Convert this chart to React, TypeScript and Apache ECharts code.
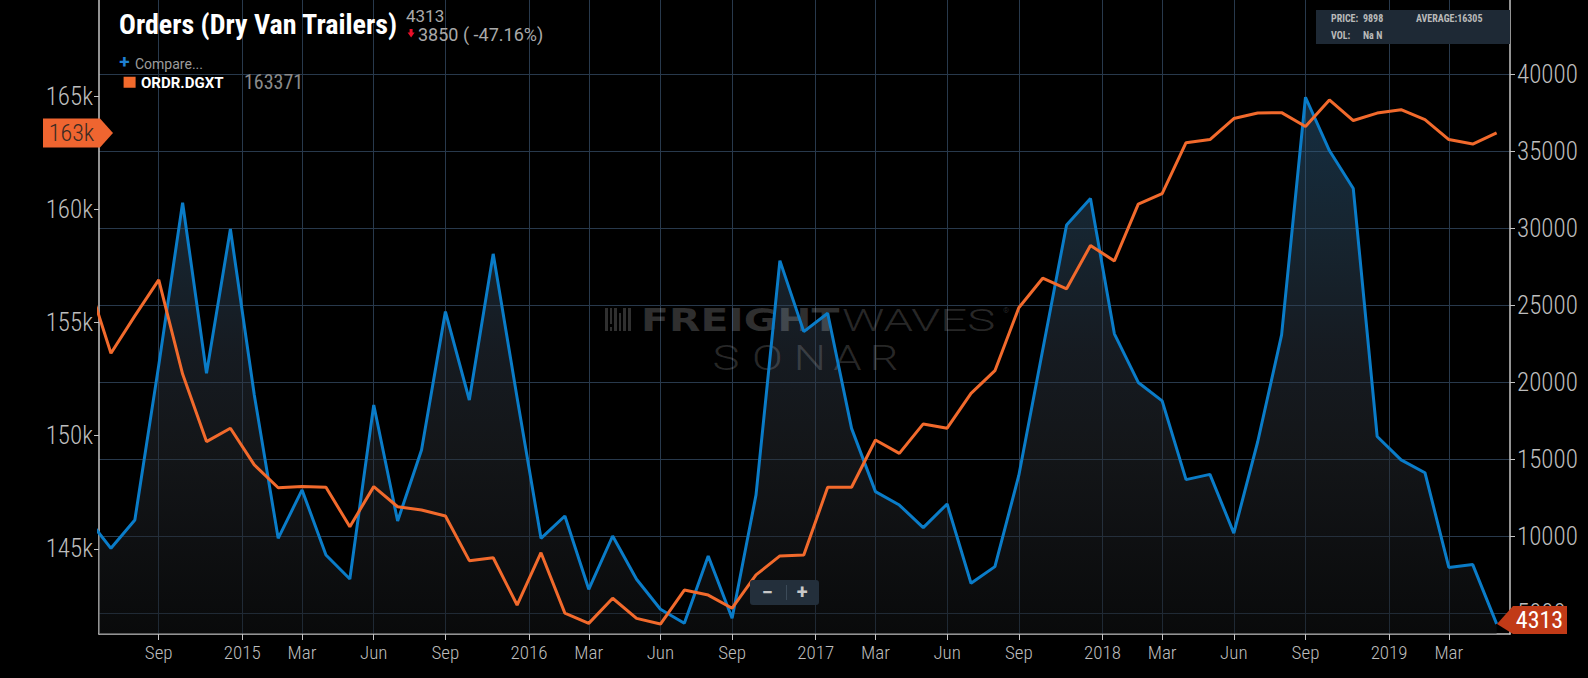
import React, { useEffect, useRef } from 'react';
import * as echarts from 'echarts';

// Monthly points, Jun 2014 .. May 2019 (x value = index in this list)
const months = [
  '2014-06', '2014-07', '2014-08', '2014-09', '2014-10', '2014-11', '2014-12',
  '2015-01', '2015-02', '2015-03', '2015-04', '2015-05', '2015-06', '2015-07', '2015-08', '2015-09', '2015-10', '2015-11', '2015-12',
  '2016-01', '2016-02', '2016-03', '2016-04', '2016-05', '2016-06', '2016-07', '2016-08', '2016-09', '2016-10', '2016-11', '2016-12',
  '2017-01', '2017-02', '2017-03', '2017-04', '2017-05', '2017-06', '2017-07', '2017-08', '2017-09', '2017-10', '2017-11', '2017-12',
  '2018-01', '2018-02', '2018-03', '2018-04', '2018-05', '2018-06', '2018-07', '2018-08', '2018-09', '2018-10', '2018-11', '2018-12',
  '2019-01', '2019-02', '2019-03', '2019-04', '2019-05',
];

// Orders (Dry Van Trailers) – right axis
const dryVanOrders = [
  11200, 9220, 11060, 21100, 31660, 20580, 29950,
  19180, 9870, 13010, 8790, 7230, 18530, 10990, 15600, 24590, 18850, 28340, 19000,
  9870, 11320, 6560, 10020, 7210, 5260, 4350, 8720, 4680, 12680, 27900, 23290,
  24480, 17010, 12900, 12030, 10560, 12100, 6950, 8030, 13950, 22100, 30220, 31930,
  23150, 19990, 18790, 13680, 14020, 10210, 16140, 23080, 38510, 35050, 32580, 16480,
  14960, 14130, 7980, 8163, 4313,
];

// ORDR.DGXT – left axis
const ordrDgxt = [
  156940, 153640, 155290, 156880, 152720, 149740, 150330,
  148710, 147700, 147750, 147720, 145980, 147750, 146860, 146720, 146450, 144480, 144610, 142520,
  144830, 142160, 141710, 142820, 141930, 141680, 143180, 142960, 142380, 143850, 144690, 144730,
  147720, 147720, 149810, 149220, 150520, 150330, 151870, 152870, 155650, 156955, 156490, 158400,
  157720, 160230, 160690, 162940, 163080, 164010, 164250, 164270, 163660, 164830, 163920, 164250,
  164400, 163960, 163080, 162880, 163371,
];

const xTickPositions = [3, 6.5, 9, 12, 15, 18.5, 21, 24, 27, 30.5, 33, 36, 39, 42.5, 45, 48, 51, 54.5, 57];
const xTickLabels = ['Sep', '2015', 'Mar', 'Jun', 'Sep', '2016', 'Mar', 'Jun', 'Sep', '2017', 'Mar', 'Jun', 'Sep', '2018', 'Mar', 'Jun', 'Sep', '2019', 'Mar'];
const leftTicks = [145000, 150000, 155000, 160000, 165000];
const rightTicks = [5000, 10000, 15000, 20000, 25000, 30000, 35000, 40000];

const FONT = '"Roboto Condensed", "Liberation Sans Narrow", "DejaVu Sans Condensed", "Roboto", sans-serif';

export default function App() {
  const ref = useRef<HTMLDivElement>(null);

  useEffect(() => {
    const el = ref.current;
    if (!el) return;
    const chart = echarts.init(el, null, { renderer: 'svg' });

    const blueData = months.map((_, i) => [i, dryVanOrders[i]]);
    const orangeData = months.map((_, i) => [i, ordrDgxt[i]]);

    const gridColor = '#28394c';
    const axisColor = '#c4c4c4';
    const labelColor = '#bdbdbd';
    const blue = '#0a7cc8';
    const orange = '#f26a2c';

    const xLabel = (v: number) => {
      const k = xTickPositions.findIndex((p) => Math.abs(p - v) < 0.01);
      return k >= 0 ? xTickLabels[k] : '';
    };

    const option: any = {
      animation: false,
      backgroundColor: '#000000',
      grid: { left: 99, right: 78, top: 0, bottom: 44, containLabel: false },
      xAxis: {
        type: 'value',
        min: 0.5,
        max: 59.56,
        axisLine: { show: true, onZero: false, lineStyle: { color: axisColor, width: 1.5 } },
        axisTick: { show: true, customValues: xTickPositions, length: 6, lineStyle: { color: axisColor } },
        axisLabel: {
          customValues: xTickPositions,
          formatter: xLabel,
          color: labelColor,
          fontFamily: FONT,
          fontSize: 19,
          fontWeight: 300,
          margin: 9,
        },
        splitLine: { show: true, lineStyle: { color: gridColor, width: 1 } },
      },
      yAxis: [
        {
          type: 'value',
          position: 'left',
          min: 141240,
          max: 169245,
          axisLine: { show: true, lineStyle: { color: axisColor, width: 1.5 } },
          axisTick: { show: true, customValues: leftTicks, length: 5, lineStyle: { color: axisColor } },
          axisLabel: {
            customValues: leftTicks,
            formatter: (v: number) => Math.round(v / 1000) + 'k',
            color: labelColor,
            fontFamily: FONT,
            fontSize: 25,
            fontWeight: 300,
            margin: 6,
            padding: [0, 0, 6, 0],
          },
          splitLine: { show: false },
        },
        {
          type: 'value',
          position: 'right',
          min: 3656,
          max: 44825,
          axisLine: { show: true, lineStyle: { color: axisColor, width: 1.5 } },
          axisTick: { show: true, customValues: rightTicks, length: 5, lineStyle: { color: axisColor } },
          axisLabel: {
            customValues: rightTicks,
            formatter: (v: number) => String(Math.round(v)),
            color: labelColor,
            fontFamily: FONT,
            fontSize: 25,
            fontWeight: 300,
            margin: 7,
            padding: [0, 0, 6, 0],
          },
          splitLine: { show: true, lineStyle: { color: gridColor, width: 1 } },
        },
      ],
      series: [
        {
          name: 'area',
          type: 'line',
          yAxisIndex: 1,
          data: blueData,
          symbol: 'none',
          silent: true,
          z: 1,
          lineStyle: { width: 0, opacity: 0 },
          areaStyle: {
            color: new echarts.graphic.LinearGradient(0, 0, 0, 634, [
              { offset: 0.0, color: 'rgba(45,106,152,0.66)' },
              { offset: 0.17, color: 'rgba(45,97,137,0.66)' },
              { offset: 0.39, color: 'rgba(48,77,100,0.66)' },
              { offset: 0.55, color: 'rgba(47,58,72,0.66)' },
              { offset: 0.71, color: 'rgba(42,47,53,0.66)' },
              { offset: 0.87, color: 'rgba(30,33,37,0.66)' },
              { offset: 1, color: 'rgba(20,22,23,0.66)' },
            ], true),
          },
        },
        {
          name: 'ORDR.DGXT',
          type: 'line',
          yAxisIndex: 0,
          data: orangeData,
          symbol: 'none',
          z: 4,
          lineStyle: { color: orange, width: 3 },
        },
        {
          name: 'Orders (Dry Van Trailers)',
          type: 'line',
          yAxisIndex: 1,
          data: blueData,
          symbol: 'none',
          z: 3,
          lineStyle: { color: blue, width: 3 },
        },
      ],
    };

    chart.setOption(option);

    const last = months.length - 1;
    const yL = chart.convertToPixel({ yAxisIndex: 0 }, ordrDgxt[last]) as number;
    const yRv = chart.convertToPixel({ yAxisIndex: 1 }, dryVanOrders[last]) as number;
    const yR = Math.min(yRv, 634 - 14);

    const txt = (text: string, x: number, y: number, font: string, fill: string, align = 'left', extra: any = {}, lineHeight?: number) => ({
      type: 'text',
      x,
      y,
      z: 20,
      silent: true,
      ...extra,
      style: { text, font, fill, textAlign: align, textVerticalAlign: 'middle', ...(lineHeight ? { lineHeight } : {}) },
    });

    const wm = 'rgba(255,255,255,0.19)';
    const wm2 = 'rgba(255,255,255,0.16)';
    const sonar = ['S', 'O', 'N', 'A', 'R'];
    const sonarX = [726, 767.5, 810, 847.5, 884];
    const ROBOTO = 'Roboto, "Noto Sans", sans-serif';

    const elements: any[] = [
      // watermark icon
      { type: 'rect', z: 2, silent: true, shape: { x: 605, y: 308, width: 3, height: 23 }, style: { fill: wm } },
      { type: 'rect', z: 2, silent: true, shape: { x: 610, y: 308, width: 2, height: 16 }, style: { fill: wm } },
      { type: 'rect', z: 2, silent: true, shape: { x: 610, y: 327, width: 2, height: 4 }, style: { fill: wm } },
      { type: 'rect', z: 2, silent: true, shape: { x: 614, y: 308, width: 3, height: 23 }, style: { fill: wm } },
      { type: 'rect', z: 2, silent: true, shape: { x: 619, y: 313, width: 2, height: 18 }, style: { fill: wm } },
      { type: 'rect', z: 2, silent: true, shape: { x: 623, y: 308, width: 3, height: 23 }, style: { fill: wm } },
      { type: 'rect', z: 2, silent: true, shape: { x: 628, y: 308, width: 3, height: 23 }, style: { fill: wm } },
      txt('FREIGHT', 641, 320, '900 32px "DejaVu Sans", sans-serif', wm, 'left', { z: 2, scaleX: 1.28 }),
      txt('WAVES', 842, 320, '300 32px ' + ROBOTO, wm2, 'left', { z: 2, scaleX: 1.48 }),
      txt('®', 1003, 310, '8px ' + ROBOTO, wm2, 'left', { z: 2 }),
      ...sonar.map((s, i) => txt(s, sonarX[i], 358, '300 35px ' + ROBOTO, wm2, 'center', { z: 2, scaleX: 1.3 })),

      // title block
      txt('Orders (Dry Van Trailers)', 119, 24, 'bold 28px ' + FONT, '#ffffff', 'left', {}, 30),
      txt('4313', 406, 15.5, '17px ' + ROBOTO, '#a9a9a9', 'left', {}, 14),
      {
        type: 'polygon', z: 20, silent: true,
        shape: { points: [[409.6, 29], [412.6, 29], [412.6, 32.5], [414.6, 32.5], [411.1, 37.5], [407.6, 32.5], [409.6, 32.5]] },
        style: { fill: '#e8102a' },
      },
      txt('3850 ( -47.16%)', 418, 34, '18px ' + ROBOTO, '#a9a9a9', 'left', {}, 16),
      txt('+', 124.5, 61, 'bold 19px ' + ROBOTO, '#1f80d2', 'center', {}, 16),
      txt('Compare...', 135, 63.5, '14px ' + ROBOTO, '#9c9c9c', 'left', {}, 16),
      { type: 'rect', z: 20, silent: true, shape: { x: 123.6, y: 76.7, width: 12, height: 11 }, style: { fill: orange } },
      txt('ORDR.DGXT', 141, 82.5, 'bold 15px ' + ROBOTO, '#ffffff'),
      txt('163371', 244, 82, '20px ' + FONT, '#8a8a8a'),

      // info box
      { type: 'rect', z: 20, silent: true, shape: { x: 1316, y: 10, width: 194, height: 34 }, style: { fill: '#1e2935' } },
      txt('PRICE:', 1331, 18.5, 'bold 10px ' + FONT, '#b9b9b9'),
      txt('9898', 1363, 18.5, 'bold 10px ' + FONT, '#b9b9b9'),
      txt('AVERAGE:16305', 1416, 18.5, 'bold 10px ' + FONT, '#b9b9b9'),
      txt('VOL:', 1331, 35, 'bold 10px ' + FONT, '#b9b9b9'),
      txt('Na N', 1363, 35, 'bold 10px ' + FONT, '#b9b9b9'),

      // zoom control
      { type: 'rect', z: 20, silent: true, shape: { x: 750, y: 580, width: 69, height: 25, r: 3 }, style: { fill: '#232f3b' } },
      { type: 'line', z: 21, silent: true, shape: { x1: 786.5, y1: 585, x2: 786.5, y2: 600 }, style: { stroke: '#3c4b59', lineWidth: 1 } },
      txt('−', 767.3, 592, 'bold 20px ' + ROBOTO, '#c8c8c8', 'center', { z: 21 }),
      txt('+', 802.3, 592, 'bold 20px ' + ROBOTO, '#c8c8c8', 'center', { z: 21 }),

      // last value badges
      {
        type: 'polygon', z: 20, silent: true,
        shape: { points: [[43, yL - 14.5], [100, yL - 14.5], [113, yL], [100, yL + 14.5], [43, yL + 14.5]] },
        style: { fill: '#ef6530' },
      },
      txt('163k', 71.5, yL, '300 24px ' + FONT, '#3a2a22', 'center'),
      {
        type: 'polygon', z: 20, silent: true,
        shape: { points: [[1497, Math.min(yRv, 634 - 3)], [1513, yR - 14], [1567, yR - 14], [1567, yR + 14], [1513, yR + 14]] },
        style: { fill: '#c13a17' },
      },
      txt(String(dryVanOrders[last]), 1539.5, yR, '24px ' + FONT, '#ffffff', 'center'),
    ];

    chart.setOption({ graphic: { elements } });

    return () => {
      chart.dispose();
    };
  }, []);

  return (
    <div
      ref={ref}
      style={{ position: 'fixed', left: 0, top: 0, width: 1588, height: 678, background: '#000' }}
    />
  );
}
